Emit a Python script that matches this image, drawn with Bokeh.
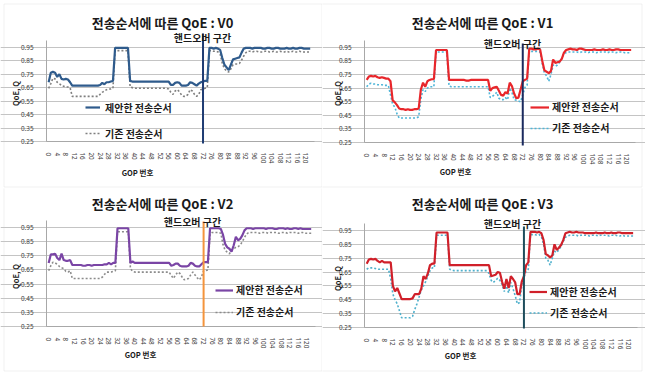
import math

from bokeh.embed import file_html
from bokeh.layouts import gridplot
from bokeh.models import (Arrow, BoxAnnotation, ColumnDataSource, FixedTicker,
                          Label, Legend, LegendItem, NumeralTickFormatter, Range1d)
from bokeh.plotting import figure
from bokeh.resources import INLINE

# ---------------------------------------------------------------- data
GOP = list(range(123))  # GOP index 0..122
GOP_TICKS = [0, 4, 8, 12, 16, 20, 24, 28, 32, 36, 40, 44, 48, 52, 56, 60,
             64, 68, 72, 76, 80, 84, 88, 92, 96, 100, 104, 108, 112, 116, 120]
Y_TICKS = [0.25, 0.35, 0.45, 0.55, 0.65, 0.75, 0.85, 0.95]
HANDOVER_GOP = 72

TITLES = ["전송순서에 따른 QoE : V0", "전송순서에 따른 QoE : V1",
          "전송순서에 따른 QoE : V2", "전송순서에 따른 QoE : V3"]
SERIES_NAMES = ["제안한 전송순서", "기존 전송순서"]
HANDOVER_TEXT = "핸드오버 구간"
Y_LABEL = "QoE, Q"
X_LABEL = "GOP 번호"

V0_NEW = [
    0.69, 0.76, 0.767, 0.76, 0.73, 0.75, 0.715, 0.71, 0.715, 0.71,
    0.69, 0.665, 0.665, 0.665, 0.665, 0.665, 0.665, 0.665, 0.665, 0.665,
    0.665, 0.665, 0.665, 0.665, 0.67, 0.685, 0.675, 0.69, 0.69, 0.695,
    0.70, 0.945, 0.945, 0.945, 0.945, 0.945, 0.945, 0.945, 0.70, 0.695,
    0.695, 0.695, 0.695, 0.695, 0.695, 0.695, 0.695, 0.695, 0.695, 0.695,
    0.695, 0.695, 0.695, 0.695, 0.695, 0.695, 0.695, 0.67, 0.67, 0.685,
    0.69, 0.685, 0.665, 0.665, 0.665, 0.67, 0.69, 0.685, 0.675, 0.665,
    0.68, 0.69, 0.695, 0.70, 0.70, 0.945, 0.945, 0.94, 0.945, 0.94,
    0.93, 0.87, 0.82, 0.80, 0.78, 0.82, 0.86, 0.865, 0.87, 0.875,
    0.91, 0.94, 0.945, 0.945, 0.945, 0.94, 0.945, 0.945, 0.945, 0.945,
    0.94, 0.94, 0.945, 0.945, 0.94, 0.94, 0.945, 0.945, 0.94, 0.94,
    0.94, 0.945, 0.94, 0.94, 0.945, 0.94, 0.94, 0.945, 0.945, 0.94,
    0.94, 0.94, 0.94,
]
V0_OLD = [
    0.645, 0.68, 0.72, 0.715, 0.69, 0.68, 0.665, 0.66, 0.655, 0.655,
    0.65, 0.585, 0.585, 0.585, 0.585, 0.585, 0.585, 0.585, 0.585, 0.585,
    0.585, 0.585, 0.585, 0.585, 0.60, 0.615, 0.625, 0.635, 0.64, 0.64,
    0.645, 0.925, 0.925, 0.925, 0.925, 0.925, 0.925, 0.925, 0.655, 0.65,
    0.645, 0.645, 0.645, 0.645, 0.645, 0.645, 0.645, 0.645, 0.645, 0.645,
    0.645, 0.645, 0.645, 0.645, 0.645, 0.645, 0.64, 0.615, 0.60, 0.625,
    0.635, 0.62, 0.595, 0.585, 0.585, 0.60, 0.635, 0.625, 0.60, 0.585,
    0.60, 0.635, 0.64, 0.645, 0.65, 0.925, 0.925, 0.92, 0.92, 0.915,
    0.90, 0.83, 0.79, 0.775, 0.765, 0.79, 0.82, 0.825, 0.825, 0.83,
    0.855, 0.885, 0.91, 0.92, 0.92, 0.915, 0.92, 0.92, 0.915, 0.915,
    0.915, 0.92, 0.92, 0.915, 0.915, 0.92, 0.915, 0.915, 0.92, 0.915,
    0.915, 0.92, 0.915, 0.915, 0.92, 0.915, 0.915, 0.92, 0.915, 0.915,
    0.915, 0.915, 0.915,
]
V1_NEW = [
    0.71, 0.735, 0.74, 0.735, 0.74, 0.73, 0.725, 0.73, 0.725, 0.72,
    0.72, 0.70, 0.56, 0.545, 0.525, 0.50, 0.495, 0.495, 0.49, 0.495,
    0.49, 0.49, 0.495, 0.495, 0.50, 0.64, 0.69, 0.66, 0.70, 0.71,
    0.715, 0.715, 0.93, 0.93, 0.93, 0.93, 0.93, 0.93, 0.71, 0.71,
    0.71, 0.71, 0.71, 0.71, 0.71, 0.71, 0.705, 0.705, 0.71, 0.71,
    0.71, 0.71, 0.71, 0.71, 0.71, 0.71, 0.71, 0.63, 0.65, 0.655,
    0.66, 0.63, 0.60, 0.595, 0.62, 0.61, 0.69, 0.665, 0.61, 0.575,
    0.58, 0.64, 0.70, 0.71, 0.72, 0.94, 0.94, 0.935, 0.935, 0.94,
    0.935, 0.85, 0.78, 0.77, 0.76, 0.775, 0.86, 0.835, 0.84, 0.845,
    0.865, 0.91, 0.93, 0.935, 0.94, 0.935, 0.935, 0.93, 0.94, 0.94,
    0.935, 0.93, 0.93, 0.93, 0.93, 0.935, 0.93, 0.93, 0.93, 0.935,
    0.93, 0.93, 0.935, 0.93, 0.93, 0.935, 0.935, 0.93, 0.93, 0.93,
    0.93, 0.93, 0.93,
]
V1_OLD = [
    0.66, 0.68, 0.685, 0.68, 0.68, 0.675, 0.675, 0.675, 0.67, 0.67,
    0.67, 0.60, 0.53, 0.51, 0.46, 0.43, 0.43, 0.43, 0.43, 0.43,
    0.43, 0.43, 0.43, 0.43, 0.44, 0.57, 0.64, 0.625, 0.65, 0.66,
    0.66, 0.66, 0.915, 0.915, 0.915, 0.915, 0.915, 0.915, 0.665, 0.66,
    0.66, 0.66, 0.66, 0.66, 0.66, 0.66, 0.66, 0.66, 0.66, 0.66,
    0.66, 0.66, 0.66, 0.66, 0.66, 0.66, 0.66, 0.58, 0.59, 0.60,
    0.62, 0.575, 0.565, 0.565, 0.58, 0.565, 0.65, 0.62, 0.565, 0.56,
    0.555, 0.55, 0.60, 0.655, 0.67, 0.92, 0.92, 0.92, 0.92, 0.92,
    0.915, 0.83, 0.76, 0.74, 0.70, 0.75, 0.82, 0.81, 0.82, 0.84,
    0.87, 0.905, 0.91, 0.915, 0.915, 0.915, 0.915, 0.915, 0.91, 0.915,
    0.915, 0.915, 0.91, 0.915, 0.915, 0.915, 0.91, 0.915, 0.915, 0.915,
    0.915, 0.91, 0.915, 0.915, 0.915, 0.91, 0.915, 0.915, 0.915, 0.91,
    0.91, 0.91, 0.91,
]
V2_NEW = [
    0.70, 0.76, 0.76, 0.765, 0.735, 0.72, 0.765, 0.72, 0.715, 0.715,
    0.72, 0.685, 0.685, 0.685, 0.685, 0.685, 0.68, 0.68, 0.685, 0.685,
    0.68, 0.685, 0.685, 0.685, 0.685, 0.685, 0.69, 0.69, 0.70, 0.69,
    0.70, 0.70, 0.945, 0.945, 0.945, 0.945, 0.945, 0.945, 0.70, 0.71,
    0.70, 0.70, 0.70, 0.70, 0.70, 0.70, 0.70, 0.70, 0.70, 0.70,
    0.70, 0.70, 0.70, 0.70, 0.70, 0.70, 0.70, 0.68, 0.685, 0.695,
    0.695, 0.68, 0.675, 0.675, 0.675, 0.68, 0.70, 0.695, 0.68, 0.675,
    0.675, 0.69, 0.705, 0.705, 0.705, 0.945, 0.945, 0.945, 0.945, 0.945,
    0.94, 0.90, 0.835, 0.81, 0.80, 0.78, 0.825, 0.885, 0.86, 0.87,
    0.895, 0.93, 0.945, 0.945, 0.945, 0.94, 0.945, 0.945, 0.945, 0.945,
    0.945, 0.94, 0.945, 0.945, 0.945, 0.94, 0.94, 0.945, 0.945, 0.945,
    0.94, 0.945, 0.94, 0.94, 0.945, 0.945, 0.94, 0.945, 0.94, 0.94,
    0.94, 0.94, 0.94,
]
V2_OLD = [
    0.645, 0.68, 0.705, 0.70, 0.69, 0.675, 0.665, 0.66, 0.64, 0.635,
    0.645, 0.59, 0.59, 0.59, 0.59, 0.59, 0.59, 0.59, 0.59, 0.59,
    0.59, 0.59, 0.59, 0.59, 0.59, 0.60, 0.62, 0.635, 0.635, 0.635,
    0.64, 0.645, 0.92, 0.92, 0.92, 0.92, 0.92, 0.92, 0.66, 0.64,
    0.635, 0.635, 0.635, 0.635, 0.635, 0.635, 0.635, 0.635, 0.635, 0.635,
    0.635, 0.635, 0.635, 0.635, 0.635, 0.635, 0.635, 0.61, 0.59, 0.615,
    0.635, 0.625, 0.60, 0.58, 0.585, 0.59, 0.615, 0.635, 0.615, 0.595,
    0.58, 0.60, 0.645, 0.645, 0.65, 0.905, 0.915, 0.915, 0.915, 0.915,
    0.91, 0.83, 0.79, 0.775, 0.765, 0.79, 0.80, 0.81, 0.815, 0.825,
    0.85, 0.88, 0.905, 0.915, 0.915, 0.915, 0.915, 0.915, 0.91, 0.915,
    0.915, 0.915, 0.91, 0.915, 0.915, 0.915, 0.915, 0.91, 0.915, 0.915,
    0.915, 0.91, 0.915, 0.915, 0.915, 0.915, 0.91, 0.915, 0.915, 0.91,
    0.91, 0.91, 0.91,
]
V3_NEW = [
    0.71, 0.74, 0.745, 0.74, 0.745, 0.73, 0.72, 0.73, 0.72, 0.72,
    0.72, 0.72, 0.55, 0.51, 0.535, 0.495, 0.455, 0.455, 0.455, 0.455,
    0.455, 0.46, 0.49, 0.49, 0.49, 0.53, 0.62, 0.60, 0.64, 0.70,
    0.71, 0.71, 0.935, 0.935, 0.935, 0.935, 0.935, 0.935, 0.70, 0.70,
    0.70, 0.70, 0.70, 0.70, 0.70, 0.70, 0.70, 0.70, 0.70, 0.70,
    0.70, 0.70, 0.70, 0.70, 0.70, 0.70, 0.70, 0.62, 0.625, 0.63,
    0.65, 0.645, 0.58, 0.53, 0.60, 0.535, 0.62, 0.60, 0.575, 0.49,
    0.49, 0.58, 0.62, 0.70, 0.72, 0.94, 0.94, 0.94, 0.935, 0.94,
    0.93, 0.88, 0.78, 0.77, 0.755, 0.77, 0.85, 0.81, 0.825, 0.845,
    0.88, 0.93, 0.935, 0.94, 0.935, 0.935, 0.94, 0.935, 0.935, 0.935,
    0.93, 0.93, 0.93, 0.93, 0.93, 0.935, 0.93, 0.93, 0.93, 0.935,
    0.93, 0.93, 0.935, 0.93, 0.93, 0.935, 0.935, 0.93, 0.93, 0.93,
    0.93, 0.93, 0.93,
]
V3_OLD = [
    0.67, 0.68, 0.68, 0.68, 0.675, 0.67, 0.67, 0.67, 0.67, 0.67,
    0.67, 0.60, 0.49, 0.45, 0.42, 0.37, 0.32, 0.32, 0.32, 0.32,
    0.32, 0.33, 0.38, 0.42, 0.47, 0.52, 0.55, 0.58, 0.62, 0.66,
    0.68, 0.68, 0.915, 0.915, 0.915, 0.915, 0.915, 0.915, 0.67, 0.665,
    0.66, 0.66, 0.66, 0.66, 0.66, 0.66, 0.66, 0.66, 0.66, 0.66,
    0.66, 0.66, 0.66, 0.66, 0.66, 0.66, 0.64, 0.59, 0.575, 0.59,
    0.605, 0.59, 0.56, 0.51, 0.55, 0.50, 0.575, 0.53, 0.48, 0.42,
    0.43, 0.55, 0.61, 0.655, 0.67, 0.92, 0.92, 0.92, 0.915, 0.92,
    0.905, 0.85, 0.75, 0.735, 0.70, 0.75, 0.80, 0.79, 0.81, 0.835,
    0.87, 0.90, 0.91, 0.915, 0.915, 0.915, 0.915, 0.91, 0.915, 0.915,
    0.915, 0.915, 0.91, 0.915, 0.915, 0.915, 0.91, 0.915, 0.915, 0.915,
    0.915, 0.91, 0.915, 0.915, 0.915, 0.91, 0.91, 0.915, 0.91, 0.91,
    0.91, 0.91, 0.91,
]

for series in (V0_NEW, V0_OLD, V1_NEW, V1_OLD, V2_NEW, V2_OLD, V3_NEW, V3_OLD):
    assert len(series) == len(GOP)

# ---------------------------------------------------------------- styling
KR_FONT = "Noto Sans CJK KR"
NUM_FONT = "Noto Sans"
TEXT_COLOR = "#1a1a1a"
GRID_COLOR = "#c4c4c4"
AXIS_COLOR = "#a8a8a8"
PANEL_EDGE = "#cfcfcf"
X_START, X_END = -1, 124      # extent of the plotting area along GOP
Y_START, Y_END = 0.25, 1.0    # extent of the plotting area along QoE

# per-panel layout: canvas size, plotting area (left, top, width, height) in
# canvas pixels, and pixel anchors for texts / legend / divider / panel edge
PANELS = [
    dict(new=V0_NEW, old=V0_OLD, new_color="#2f5b8c", old_color="#7f7f7f",
         mark_color="#1f3c73", size=(322, 188), area=(46, 40, 268, 101),
         title=(162, 22), handover=(202, 36.5), ylab=(15, 93), xlab=(137, 172),
         legend=dict(x=85, rows=(107, 133), glyph=15, standoff=5),
         mark=(33, 143), box=(3.5, 321.5, 3.5, 186.5)),
    dict(new=V1_NEW, old=V1_OLD, new_color="#e8262b", old_color="#4fb5d8",
         mark_color="#1b2a5e", size=(323, 188), area=(42, 40, 271, 102),
         title=(160, 22), handover=(190, 42.5), ylab=(15, 93), xlab=(133, 171),
         legend=dict(x=208, rows=(108, 128), glyph=19, standoff=3),
         mark=(43, 145), box=(-3, 319.5, 3.5, 186.5)),
    dict(new=V2_NEW, old=V2_OLD, new_color="#7a45a5", old_color="#8c8c8c",
         mark_color="#f4943c", size=(322, 188), area=(46, 32, 269, 106),
         title=(162, 15), handover=(192, 33), ylab=(15, 88), xlab=(140, 166),
         legend=dict(x=215, rows=(103, 124), glyph=18, standoff=3),
         mark=(33, 138), box=(3.5, 321.5, -3, 182.5)),
    dict(new=V3_NEW, old=V3_OLD, new_color="#d0202a", old_color="#4fb0cc",
         mark_color="#1e4d5c", size=(323, 188), area=(42, 35, 273, 104),
         title=(160, 15), handover=(190, 35), ylab=(15, 90), xlab=(138, 167),
         legend=dict(x=207, rows=(105.7, 125), glyph=18, standoff=3),
         mark=(38, 140), box=(-3, 319.5, -3, 182.5)),
]


def build_panel(title, cfg):
    width, height = cfg["size"]
    al, at, aw, ah = cfg["area"]
    kx = (X_END - X_START) / aw
    ky = (Y_END - Y_START) / ah

    def dx(px):
        return X_START + (px - al) * kx

    def dy(py):
        return Y_END - (py - at) * ky

    # the frame spans the whole canvas; the axes sit at fixed positions so
    # that titles and labels around the plotting area stay inside the frame
    p = figure(width=width, height=height, output_backend="svg",
               toolbar_location=None,
               x_range=Range1d(dx(0), dx(width)),
               y_range=Range1d(dy(height), dy(0)),
               min_border=0, min_border_left=0, min_border_right=0,
               min_border_top=0, min_border_bottom=0)
    p.outline_line_color = None
    p.background_fill_color = "white"
    p.border_fill_color = "white"

    # axes
    p.xaxis.fixed_location = Y_START
    p.xaxis.bounds = (X_START, X_END)
    p.xaxis.ticker = FixedTicker(ticks=GOP_TICKS)
    p.xaxis.major_label_orientation = -math.pi / 2
    p.yaxis.fixed_location = X_START
    p.yaxis.bounds = (Y_START, Y_END)
    p.yaxis.ticker = FixedTicker(ticks=Y_TICKS)
    p.yaxis.formatter = NumeralTickFormatter(format="0.00")
    for ax in (p.xaxis[0], p.yaxis[0]):
        ax.axis_line_color = AXIS_COLOR
        ax.major_tick_line_color = None
        ax.minor_tick_line_color = None
        ax.major_label_text_font = NUM_FONT
        ax.major_label_text_color = "#3a3a3a"
    p.xaxis.major_label_text_font_size = "6.3px"
    p.xaxis.major_label_standoff = 5
    p.yaxis.major_label_text_font_size = "6.3px"
    p.yaxis.major_label_standoff = 7

    p.xgrid.visible = False
    p.ygrid.ticker = FixedTicker(ticks=Y_TICKS)
    p.ygrid.bounds = (X_START, X_END)
    p.ygrid.grid_line_color = GRID_COLOR

    # series
    src = ColumnDataSource(dict(gop=GOP, new=cfg["new"], old=cfg["old"]))
    r_old = p.line("gop", "old", source=src, line_color=cfg["old_color"],
                   line_width=1.6, line_dash="2 2")
    r_new = p.line("gop", "new", source=src, line_color=cfg["new_color"],
                   line_width=2.2)

    # handover divider
    y0, y1 = cfg["mark"]
    p.add_layout(Arrow(end=None, x_start=HANDOVER_GOP, x_end=HANDOVER_GOP,
                       y_start=dy(y0), y_end=dy(y1),
                       line_color=cfg["mark_color"], line_width=2))

    # panel edge
    bl, br, bt, bb = cfg["box"]
    p.add_layout(BoxAnnotation(left=dx(bl), right=dx(br), top=dy(bt),
                               bottom=dy(bb), fill_color=None,
                               line_color=PANEL_EDGE, line_width=1))

    # texts
    def text(pos, s, size, angle=0.0):
        p.add_layout(Label(x=dx(pos[0]), y=dy(pos[1]), text=s, angle=angle,
                           text_align="center", text_baseline="middle",
                           text_font=KR_FONT, text_font_style="bold",
                           text_font_size=size, text_color=TEXT_COLOR))

    text(cfg["title"], title, "13px")
    text(cfg["handover"], HANDOVER_TEXT, "10px")
    text(cfg["ylab"], Y_LABEL, "7.5px", angle=math.pi / 2)
    text(cfg["xlab"], X_LABEL, "7.5px")

    # legend
    lg = cfg["legend"]
    row_a, row_b = lg["rows"]
    gap = row_b - row_a
    item_h = int(min(16, gap * 0.7))
    legend = Legend(
        items=[LegendItem(label=SERIES_NAMES[0], renderers=[r_new]),
               LegendItem(label=SERIES_NAMES[1], renderers=[r_old])],
        location=(lg["x"], height - (row_b + item_h / 2)),
        orientation="vertical", padding=0, margin=0,
        spacing=int(round(gap - item_h)),
        glyph_width=lg["glyph"], glyph_height=item_h,
        label_height=item_h, label_standoff=lg["standoff"],
        label_text_font=KR_FONT, label_text_font_size="10px",
        label_text_font_style="bold", label_text_color=TEXT_COLOR,
        border_line_color=None, background_fill_alpha=0)
    p.add_layout(legend)
    return p


plots = [build_panel(t, c) for t, c in zip(TITLES, PANELS)]
grid = gridplot([[plots[0], plots[1]], [plots[2], plots[3]]],
                toolbar_location=None)

with open("out.html", "w") as fh:
    fh.write(file_html(grid, INLINE))
